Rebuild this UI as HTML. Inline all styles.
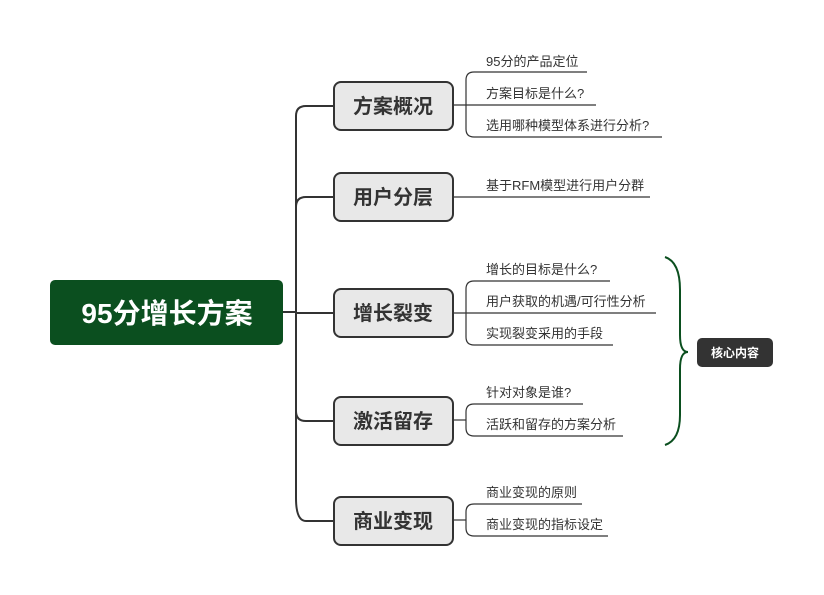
<!DOCTYPE html>
<html><head><meta charset="utf-8"><style>
html,body{margin:0;padding:0;background:#fff;}
svg{display:block;}
text{font-family:"Liberation Sans","Noto Sans CJK SC",sans-serif;}
.b{font-size:20px;font-weight:bold;fill:#333;text-anchor:middle;}
.l{font-size:13px;fill:#333;}
</style></head><body>
<svg width="824" height="595" viewBox="0 0 824 595" xmlns="http://www.w3.org/2000/svg">
<g fill="none" stroke="#333" stroke-width="2">
<path d="M283 312 H296"/>
<path d="M334 106 H306 Q296 106 296 116 V498 Q296 521 306 521 H334"/>
<path d="M296 207 Q296 197 306 197 H334"/>
<path d="M296 313 H334"/>
<path d="M296 411 Q296 421 306 421 H334"/>
</g>
<g fill="none" stroke="#333" stroke-width="1.2">
<path d="M587 72 H474 Q466 72 466 80 V129 Q466 137 474 137 H662"/>
<path d="M453 105 H596"/>
<path d="M453 197 H650"/>
<path d="M610 281 H474 Q466 281 466 289 V337 Q466 345 474 345 H613"/>
<path d="M453 313 H656"/>
<path d="M583 404 H474 Q466 404 466 412 V428 Q466 436 474 436 H623"/>
<path d="M453 420 H466"/>
<path d="M582 504 H474 Q466 504 466 512 V528 Q466 536 474 536 H608"/>
<path d="M453 520 H466"/>
</g>
<rect x="50" y="280" width="233" height="65" rx="5" fill="#0b4f1f"/>
<text x="167" y="323" text-anchor="middle" font-size="28" font-weight="bold" fill="#fff">95分增长方案</text>
<g fill="#e8e8e8" stroke="#333" stroke-width="2">
<rect x="334" y="82" width="119" height="48" rx="7"/>
<rect x="334" y="173" width="119" height="48" rx="7"/>
<rect x="334" y="289" width="119" height="48" rx="7"/>
<rect x="334" y="397" width="119" height="48" rx="7"/>
<rect x="334" y="497" width="119" height="48" rx="7"/>
</g>
<text class="b" x="393" y="113">方案概况</text>
<text class="b" x="393" y="204">用户分层</text>
<text class="b" x="393" y="320">增长裂变</text>
<text class="b" x="393" y="428">激活留存</text>
<text class="b" x="393" y="528">商业变现</text>
<text class="l" x="486" y="66">95分的产品定位</text>
<text class="l" x="486" y="98">方案目标是什么?</text>
<text class="l" x="486" y="130">选用哪种模型体系进行分析?</text>
<text class="l" x="486" y="190">基于RFM模型进行用户分群</text>
<text class="l" x="486" y="274">增长的目标是什么?</text>
<text class="l" x="486" y="306">用户获取的机遇/可行性分析</text>
<text class="l" x="486" y="338">实现裂变采用的手段</text>
<text class="l" x="486" y="397">针对对象是谁?</text>
<text class="l" x="486" y="429">活跃和留存的方案分析</text>
<text class="l" x="486" y="497">商业变现的原则</text>
<text class="l" x="486" y="529">商业变现的指标设定</text>
<path d="M665 257 Q680 262 680 290 V335 Q680 352 688 352 Q680 352 680 369 V415 Q680 440 665 445" fill="none" stroke="#0b4f1f" stroke-width="2"/>
<rect x="697" y="338" width="76" height="29" rx="5" fill="#333"/>
<text x="735" y="357" text-anchor="middle" font-size="12" font-weight="bold" fill="#fff">核心内容</text>
</svg>
</body></html>
